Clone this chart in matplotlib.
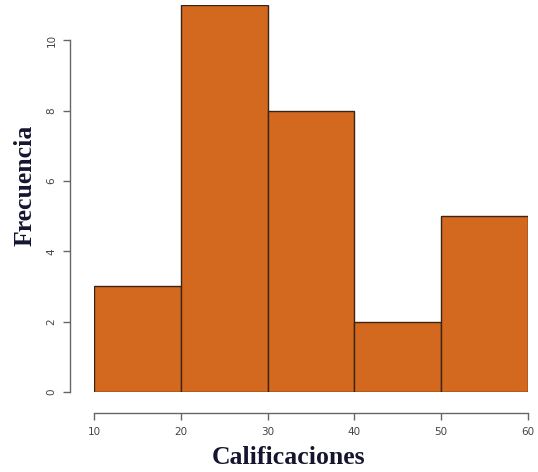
import numpy as np
import matplotlib.pyplot as plt

bin_edges = [10, 20, 30, 40, 50, 60]
counts = [3, 11, 8, 2, 5]
y_ticks = [0, 2, 4, 6, 8, 10]

W, H = 538, 472
fig = plt.figure(figsize=(W / 100, H / 100), dpi=100)
ax = fig.add_axes([94 / W, (H - 392) / H, (528 - 94) / W, (392 - 5) / H])

lefts = np.array(bin_edges[:-1])
widths = np.diff(bin_edges)
ax.bar(lefts, counts, width=widths, align='edge', color='#D2691E',
       edgecolor='#3b2414', linewidth=1.0)

ax.set_xlim(10, 60)
ax.set_ylim(0, 11)

for s in ['top', 'right']:
    ax.spines[s].set_visible(False)
ax.spines['left'].set_position(('outward', 17))
ax.spines['bottom'].set_position(('outward', 15))
ax.spines['left'].set_bounds(0, 10)
ax.spines['bottom'].set_bounds(10, 60)
for s in ['left', 'bottom']:
    ax.spines[s].set_color('#666666')
    ax.spines[s].set_linewidth(1.0)

ax.set_xticks(bin_edges)
ax.set_yticks(y_ticks)
ax.tick_params(axis='both', direction='out', length=5, width=1.0,
               color='#666666', labelcolor='#444444', labelsize=7.5)
ax.tick_params(axis='y', pad=5)
ax.tick_params(axis='x', pad=5)
for lbl in ax.get_yticklabels():
    lbl.set_rotation(90)
    lbl.set_va('center')

label_font = dict(family='Liberation Serif', weight='bold', size=18.5, color='#151530')
fig.text(289 / W, 1 - 458 / H, 'Calificaciones', ha='center', va='center', **label_font)
fig.text(25 / W, 1 - 185 / H, 'Frecuencia', ha='center', va='center', rotation=90, **label_font)

fig.savefig('out.png', dpi=100)
